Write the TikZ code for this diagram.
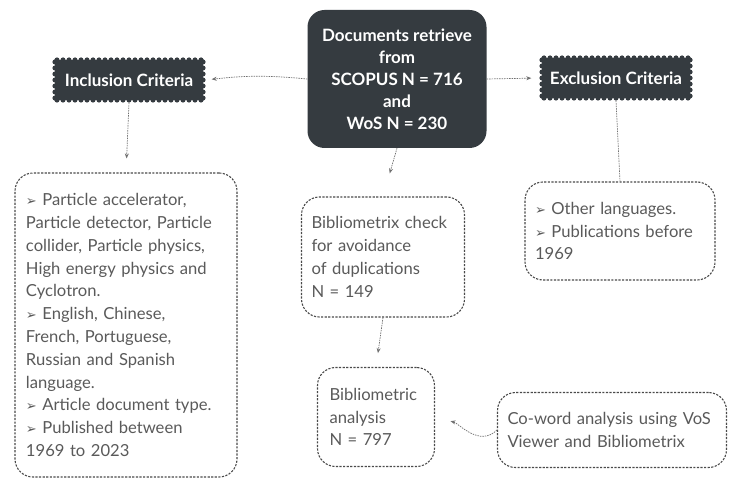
\documentclass[tikz,border=0pt]{standalone}
\usepackage{fontspec}
\setmainfont{Lato}
\newfontfamily\symfont{DejaVu Sans}
\usetikzlibrary{arrows.meta}
\definecolor{darkbox}{HTML}{353B40}
\definecolor{txt}{HTML}{5A5A5A}
\definecolor{brd}{HTML}{4A4A4A}
\definecolor{conn}{HTML}{707070}
\newcommand{\bul}{{\symfont\fontsize{13bp}{13bp}\selectfont ➢}\ }
\tikzset{
  x=1bp, y=-1bp,
  dbox/.style={draw=brd, line width=1.1pt, dash pattern=on 2.2pt off 1.4pt, rounded corners=18bp,
     align=left, inner xsep=10bp, inner ysep=0pt, text=txt,
     font=\fontsize{16.6bp}{22.8bp}\selectfont},
  darkb/.style={fill=darkbox, rounded corners=17bp, text=white, align=center,
     font=\bfseries\fontsize{17bp}{22bp}\selectfont, minimum width=179bp, minimum height=138bp, inner sep=0pt},
  scallop/.style={text=white, font=\bfseries\fontsize{17bp}{18bp}\selectfont, inner sep=0pt},
  conn/.style={draw=conn, line width=0.7pt, dash pattern=on 1.5pt off 1pt},
  arr/.style={conn, -{Stealth[length=5bp,width=4bp]}},
}
\begin{document}
\begin{tikzpicture}
\useasboundingbox[fill=white] (0,0) rectangle (734,481);
% central box
\node[darkb] (src) at (397,79) {Documents retrieve\\from\\SCOPUS N = 716\\and\\WoS N = 230};
% scalloped boxes
\foreach \nm/\cx/\cy/\t in {inc/129/80/Inclusion Criteria, exc/616/78/Exclusion Criteria}{
  \fill[darkbox] (\cx-74,\cy-20) rectangle (\cx+74,\cy+20);
  \foreach \i in {0,...,24}{
    \fill[darkbox] (\cx-72+\i*6,\cy-20) circle (2.6bp);
    \fill[darkbox] (\cx-72+\i*6,\cy+20) circle (2.6bp);
  }
  \foreach \j in {0,...,6}{
    \fill[darkbox] (\cx-74,\cy-18+\j*6) circle (2.6bp);
    \fill[darkbox] (\cx+74,\cy-18+\j*6) circle (2.6bp);
  }
  \node[scallop, minimum width=153bp, minimum height=45bp] (\nm) at (\cx,\cy) {\t};
}
% dashed boxes
\node[dbox, text width=200bp, inner xsep=11bp, minimum height=304bp] (incbox) at (126,325)
 {\bul Particle accelerator,\\Particle detector, Particle\\collider, Particle physics,\\High energy physics and\\Cyclotron.\\\bul English, Chinese,\\French, Portuguese,\\Russian and Spanish\\language.\\\bul Article document type.\\\bul Published between\\1969 to 2023};
\node[dbox, text width=143bp, minimum height=120bp] (chk) at (383,257)
 {Bibliometrix check\\for avoidance\\of duplications\\N = 149};
\node[dbox, text width=170bp, minimum height=98bp] (exbox) at (620,231)
 {\bul Other languages.\\\bul Publications before\\1969};
\node[dbox, text width=93bp, inner xsep=12bp, minimum height=99bp] (bib) at (376,417)
 {Bibliometric\\analysis\\N = 797};
\node[dbox, text width=209bp, minimum height=75bp] (cow) at (612,430)
 {Co-word analysis using VoS\\Viewer and Bibliometrix};
% connectors
\draw[arr, shorten >=6bp] (src.west) to[bend right=6] (inc.east);
\draw[arr, shorten >=8bp] (src.east) -- (exc.west);
\draw[arr, shorten >=14bp] (inc.south) -- (incbox.north);
\draw[arr, shorten >=24bp] (src.south) -- (chk.north);
\draw[conn] (exc.south) -- (exbox.north);
\draw[arr, shorten >=14bp] (chk.south) -- (bib.north);
\draw[arr, shorten >=16bp] (cow.west) to[out=225, in=-15] (bib.east);
\end{tikzpicture}
\end{document}
